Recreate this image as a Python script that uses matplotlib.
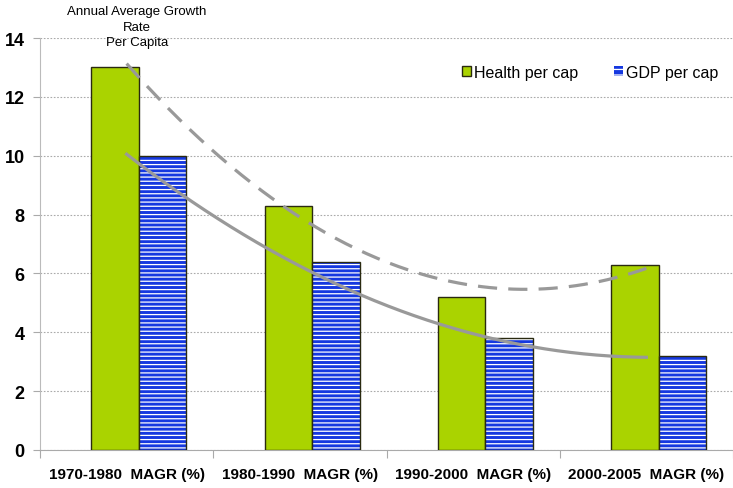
import numpy as np
import matplotlib.pyplot as plt
from matplotlib.patches import Patch

# data
periods = ['1970-1980  MAGR (%)', '1980-1990  MAGR (%)',
           '1990-2000  MAGR (%)', '2000-2005  MAGR (%)']
health = [13.0, 8.3, 5.2, 6.3]
gdp = [10.0, 6.4, 3.8, 3.2]

plt.rcParams['font.family'] = ['Liberation Sans', 'DejaVu Sans']
plt.rcParams['hatch.linewidth'] = 0.9

fig = plt.figure(figsize=(7.33, 4.89), dpi=100)
ax = fig.add_axes([40 / 733, 38 / 489, 693 / 733, 412 / 489])

n = len(periods)
idx = np.arange(n)
w = 0.274
green = '#aad300'
blue = '#1538e0'

ax.bar(idx + 0.434, health, w, color=green, edgecolor='#2a2a10', linewidth=1,
       label='Health per cap', zorder=3)
ax.bar(idx + 0.708, gdp, w, color=blue, edgecolor='white', linewidth=0,
       hatch='----', zorder=3)
ax.bar(idx + 0.708, gdp, w, facecolor='none', edgecolor='#2a2a10', linewidth=1,
       zorder=4)

# second-order polynomial trendlines through category centres
xc = idx + 0.5
xs = np.linspace(xc[0], xc[-1], 200)
ph = np.polyfit(xc, health, 2)
pg = np.polyfit(xc, gdp, 2)
ax.plot(xs, np.polyval(ph, xs), color='#999999', lw=2.3, ls=(0, (6, 3.5)),
        zorder=5, solid_capstyle='butt')
ax.plot(xs, np.polyval(pg, xs), color='#999999', lw=2.3, zorder=5)

ax.set_ylim(0, 14)
ax.set_xlim(0, 693 / 175.3)
ax.set_yticks(range(0, 15, 2))
ax.set_yticklabels([str(v) for v in range(0, 15, 2)], fontsize=13,
                   fontweight='bold')
ax.yaxis.grid(True, color='#aaaaaa', ls=(0, (1.5, 1.5)), lw=0.8)
ax.set_axisbelow(True)

ax.set_xticks(np.arange(0, n + 1))
ax.set_xticklabels([])
ax.set_xticks(xc, minor=True)
ax.set_xticklabels(periods, minor=True, fontsize=11, fontweight='bold')
ax.tick_params(axis='x', which='major', length=6, color='#aaaaaa')
ax.tick_params(axis='x', which='minor', length=0, pad=12)
ax.tick_params(axis='y', length=5, color='#aaaaaa', pad=6)

for s in ['top', 'right']:
    ax.spines[s].set_visible(False)
ax.spines['left'].set_color('#bbbbbb')
ax.spines['bottom'].set_color('#aaaaaa')

handles = [Patch(facecolor=green, edgecolor='#2a2a10', lw=1),
           Patch(facecolor=blue, edgecolor='white', hatch='---', lw=0)]
leg = ax.legend(handles, ['Health per cap', 'GDP per cap'], ncol=2,
                loc='upper right', bbox_to_anchor=(1.0, 0.97), frameon=False,
                fontsize=11.5, handlelength=0.6, handleheight=0.6,
                handletextpad=0.2, columnspacing=2.2)

fig.text(137 / 733, 1 - 6 / 489, 'Annual Average Growth\nRate\nPer Capita',
         ha='center', va='top', fontsize=9.5, linespacing=1.4)

fig.savefig('out.png', dpi=100)
